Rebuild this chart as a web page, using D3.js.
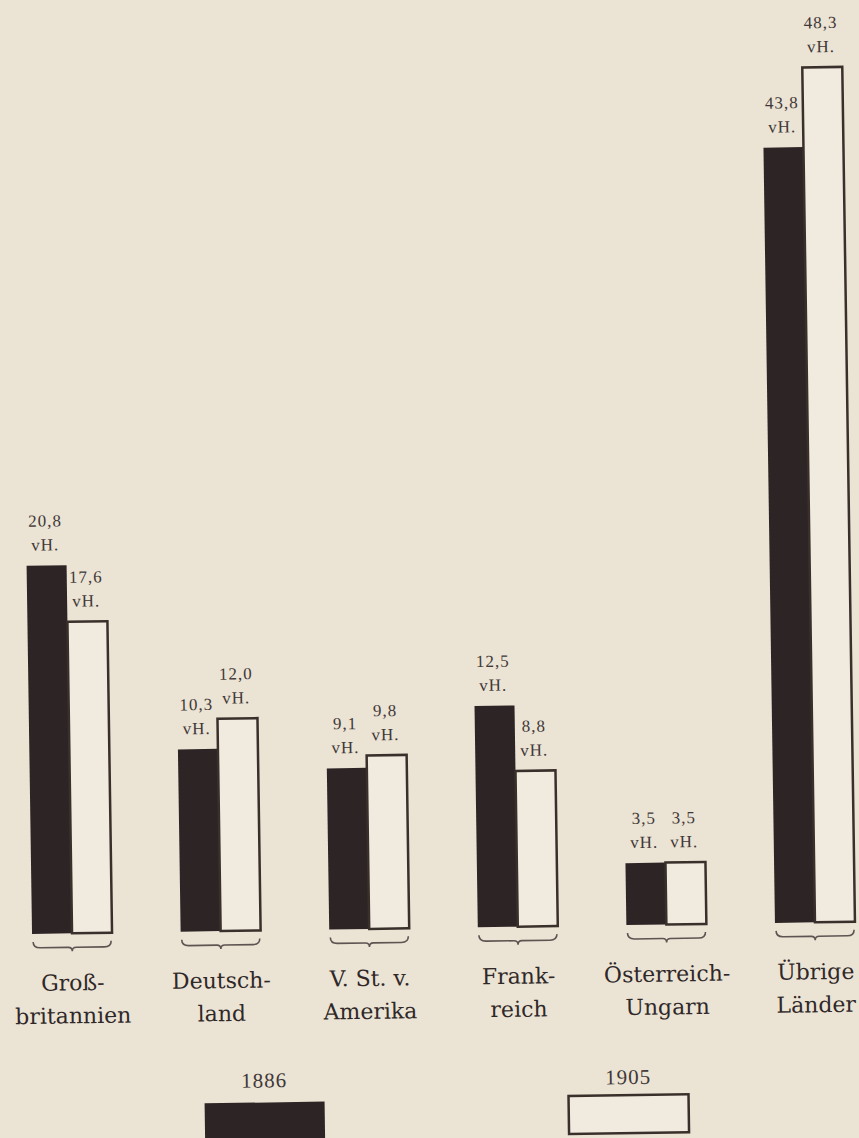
<!DOCTYPE html>
<html>
<head>
<meta charset="utf-8">
<script src="https://cdn.jsdelivr.net/npm/d3@7"></script>
<style>
  html, body { margin: 0; padding: 0; background: #ebe3d4; }
  svg { display: block; }
</style>
</head>
<body>
<svg id="chart" width="859" height="1138"></svg>
<script>
// Shares (vH.) per country, 1886 vs 1905
const categories = ['Großbritannien', 'Deutschland', 'V. St. v. Amerika', 'Frankreich', 'Österreich-Ungarn', 'Übrige Länder']
const categoryLines = [
  ['Groß-', 'britannien'],
  ['Deutsch-', 'land'],
  ['V. St. v.', 'Amerika'],
  ['Frank-', 'reich'],
  ['Österreich-', 'Ungarn'],
  ['Übrige', 'Länder']
]
const years = ['1886', '1905']
const values1886 = [20.8, 10.3, 9.1, 12.5, 3.5, 43.8]
const values1905 = [17.6, 12.0, 9.8, 8.8, 3.5, 48.3]

const width = 859
const height = 1138
const baseY = 928
const barW = 40

const svg = d3.select('#chart')
svg.append('rect').attr('width', width).attr('height', height).attr('fill', '#ebe3d4')

// the scanned page sits slightly askew
const g = svg.append('g').attr('transform', `rotate(-0.85, 430, ${baseY})`)

const x = d3.scalePoint().domain(categories).range([72, 815])
const y = d3.scaleLinear().domain([0, 50]).range([baseY, baseY - 50 * 17.7])
const fmt = d3.formatLocale({ decimal: ',', thousands: '.', grouping: [3], currency: ['', ''] }).format('.1f')

const rows = categories.map(function (c, i) {
  return [
    { cat: c, year: years[0], value: values1886[i], side: -1 },
    { cat: c, year: years[1], value: values1905[i], side: 0 }
  ]
}).flat()

// bars
g.selectAll('rect.bar')
  .data(rows)
  .enter().append('rect')
  .attr('class', 'bar')
  .attr('x', function (d) { return x(d.cat) + d.side * barW })
  .attr('y', function (d) { return y(d.value) })
  .attr('width', barW)
  .attr('height', function (d) { return y(0) - y(d.value) })
  .attr('fill', function (d) { return d.year === years[0] ? '#2d2525' : '#f1eadf' })
  .attr('stroke', function (d) { return d.year === years[0] ? 'none' : '#3a302b' })
  .attr('stroke-width', 2.5)

// value labels
const lab = g.selectAll('g.val')
  .data(rows)
  .enter().append('g')
  .attr('class', 'val')
  .attr('transform', function (d) { return `translate(${x(d.cat) + d.side * barW + barW / 2 - 1}, ${y(d.value)})` })
  .attr('font-family', '"Liberation Serif", serif')
  .attr('font-size', 17)
  .attr('letter-spacing', 1)
  .attr('fill', '#3f3838')
  .attr('text-anchor', 'middle')
lab.append('text').attr('y', -39).text(function (d) { return fmt(d.value) })
lab.append('text').attr('y', -15).text('vH.')

// braces under each pair
g.selectAll('path.brace')
  .data(categories)
  .enter().append('path')
  .attr('class', 'brace')
  .attr('d', function (c) {
    const cx = x(c)
    const l = cx - 39
    const r = cx + 39
    const t = baseY + 8
    const m = baseY + 14
    return `M${l},${t} Q${l},${m} ${l + 7},${m} L${cx - 4},${m} Q${cx},${m} ${cx},${m + 4}` +
      ` Q${cx},${m} ${cx + 4},${m} L${r - 7},${m} Q${r},${m} ${r},${t}`
  })
  .attr('fill', 'none')
  .attr('stroke', '#5e5452')
  .attr('stroke-width', 1.6)

// category labels
const cl = g.selectAll('text.cat')
  .data(categories)
  .enter().append('text')
  .attr('class', 'cat')
  .attr('x', function (c) { return x(c) })
  .attr('y', baseY + 57)
  .attr('text-anchor', 'middle')
  .attr('font-family', '"DejaVu Serif", serif')
  .attr('font-size', 22)
  .attr('fill', '#2f2828')
cl.selectAll('tspan')
  .data(function (c, i) { return categoryLines[i] })
  .enter().append('tspan')
  .attr('x', function () { return x(d3.select(this.parentNode).datum()) })
  .attr('dy', function (d, i) { return i === 0 ? 0 : 33 })
  .text(function (d) { return d })

// legend
const legX = d3.scalePoint().domain(years).range([262, 626])
const leg = g.selectAll('g.leg')
  .data(years)
  .enter().append('g')
  .attr('class', 'leg')
  .attr('transform', function (d) { return `translate(${legX(d)}, 0)` })
leg.append('text')
  .attr('y', function (d, i) { return i === 0 ? 1085 : 1087 })
  .attr('text-anchor', 'middle')
  .attr('font-family', '"Liberation Serif", serif')
  .attr('font-size', 21)
  .attr('letter-spacing', 1)
  .attr('fill', '#3f3838')
  .text(function (d) { return d })
leg.append('rect')
  .attr('x', -60)
  .attr('y', function (d, i) { return i === 0 ? 1100 : 1098 })
  .attr('width', 120)
  .attr('height', function (d, i) { return i === 0 ? 50 : 38 })
  .attr('fill', function (d, i) { return i === 0 ? '#2d2525' : '#f1eadf' })
  .attr('stroke', function (d, i) { return i === 0 ? 'none' : '#3a302b' })
  .attr('stroke-width', 2.5)
</script>
</body>
</html>
